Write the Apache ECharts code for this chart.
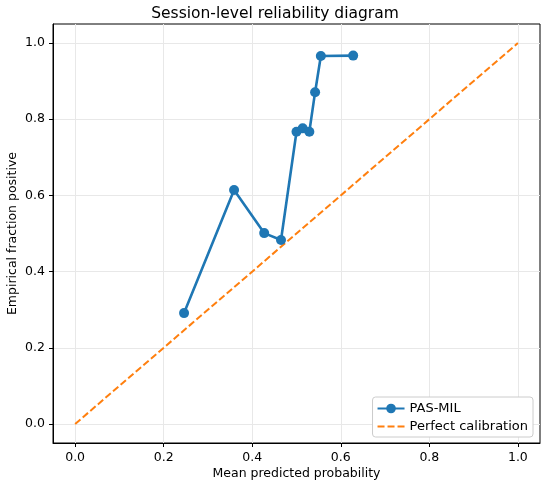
<!DOCTYPE html>
<html>
<head>
  <meta charset="utf-8" />
  <title>Session-level reliability diagram</title>
  <script src="https://cdn.jsdelivr.net/npm/echarts@6.0.0/dist/echarts.min.js"></script>
</head>
<style>
  body { margin: 0; padding: 0; overflow: hidden; background: #fff; }
</style>
<body>
  <div id="main" style="width: 550px; height: 489px;"></div>
  <script type="text/javascript">
    // mean predicted probability per bin
    const predicted = [0.246, 0.359, 0.427, 0.465, 0.500, 0.514, 0.529, 0.542, 0.555, 0.628];
    // empirical fraction positive per bin
    const observed = [0.291, 0.614, 0.501, 0.483, 0.767, 0.776, 0.767, 0.871, 0.966, 0.967];
    const diagonal = [0, 1];
    const ticks = [0, 0.2, 0.4, 0.6, 0.8, 1.0];

    const font = 'DejaVu Sans';
    const myChart = echarts.init(document.getElementById('main'));

    function axisOpt(name, extra) {
      return Object.assign({
        type: 'value',
        min: -0.05,
        max: 1.05,
        name: name,
        nameLocation: 'middle',
        nameMoveOverlap: false,
        nameTextStyle: { fontFamily: font, fontSize: 12.5, color: '#000' },
        axisLine: { show: true, onZero: false, lineStyle: { color: '#000', width: 1 } },
        axisTick: { show: true, length: 4, customValues: ticks, lineStyle: { color: '#000' } },
        axisLabel: {
          customValues: ticks,
          fontFamily: font, fontSize: 12.5, color: '#000',
          formatter: v => v.toFixed(1)
        },
        splitLine: { show: true, lineStyle: { color: '#e8e8e8', width: 1 } }
      }, extra);
    }

    const option = {
      animation: false,
      title: {
        text: 'Session-level reliability diagram',
        left: 'center',
        top: 1,
        textStyle: { fontFamily: font, fontSize: 15.5, fontWeight: 'normal', color: '#000' }
      },
      grid: {
        left: 53, right: 10, top: 24, bottom: 46,
        show: true, borderColor: '#000', borderWidth: 1,
        containLabel: false,
        outerBoundsMode: 'none'
      },
      legend: {
        orient: 'vertical',
        right: 17,
        bottom: 52,
        padding: [5, 5, 4, 4],
        itemGap: 5,
        itemWidth: 27,
        itemHeight: 12,
        backgroundColor: '#fff',
        borderColor: '#ccc',
        borderWidth: 1,
        borderRadius: 3,
        textStyle: { fontFamily: font, fontSize: 13, color: '#000' },
        data: [
          { name: 'PAS-MIL' },
          { name: 'Perfect calibration', itemStyle: { opacity: 0 } }
        ]
      },
      xAxis: axisOpt('Mean predicted probability', { nameGap: 24 }),
      yAxis: axisOpt('Empirical fraction positive', { nameGap: 34 }),
      series: [
        {
          name: 'PAS-MIL',
          type: 'line',
          data: predicted.map((x, i) => [x, observed[i]]),
          symbol: 'circle',
          symbolSize: 10,
          lineStyle: { color: '#1f77b4', width: 2.6 },
          itemStyle: { color: '#1f77b4' },
          z: 3
        },
        {
          name: 'Perfect calibration',
          type: 'line',
          data: diagonal.map(v => [v, v]),
          symbol: 'none',
          lineStyle: { color: '#ff7f0e', width: 2, type: [7, 3] },
          itemStyle: { color: '#ff7f0e' },
          z: 2
        }
      ]
    };
    myChart.setOption(option);
  </script>
</body>
</html>
